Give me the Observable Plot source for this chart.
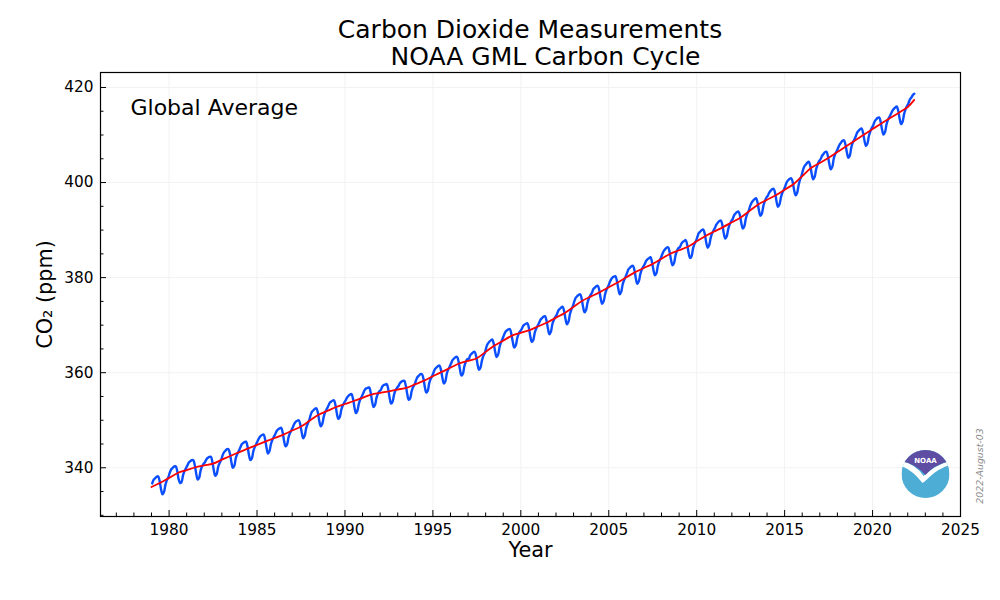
<!DOCTYPE html>
<html>
<head>
<meta charset="utf-8">
<script src="https://cdn.jsdelivr.net/npm/d3@7"></script>
<script src="https://cdn.jsdelivr.net/npm/@observablehq/plot@0.6"></script>
<style>
  body { margin: 0; background: #fff; font-family: "DejaVu Sans", sans-serif; }
  #wrap { position: relative; width: 1000px; height: 600px; overflow: hidden; }
  #chart { position: absolute; left: 0; top: 60px; }
  #title, #overlay { position: absolute; left: 0; top: 0; overflow: visible; pointer-events: none; }
</style>
</head>
<body>
<div id="wrap">
  <div id="chart"></div>
  <svg id="title" width="1000" height="72" font-family="DejaVu Sans, sans-serif">
    <text x="530" y="38" text-anchor="middle" font-size="25" fill="#000">Carbon Dioxide Measurements</text>
    <text x="545.5" y="65" text-anchor="middle" font-size="25" fill="#000">NOAA GML Carbon Cycle</text>
  </svg>
  <svg id="overlay" width="1000" height="600" font-family="DejaVu Sans, sans-serif">
    <text transform="translate(983,466) rotate(-90)" text-anchor="middle" font-size="9.4" font-style="italic" fill="#888">2022-August-03</text>
    <g transform="translate(901.5,450)">
      <clipPath id="logoClip"><circle cx="24" cy="24" r="24"></circle></clipPath>
      <g clip-path="url(#logoClip)">
        <rect x="0" y="0" width="48" height="48" fill="#4eadd4"></rect>
        <path fill="#fff" d="M0,11 Q14,14 22,26 Q32,16 48,11 L48,15 Q36,19 28,27 Q24,31 21,33 Q12,21 0,16 Z"></path>
        <path fill="#5d4ea3" d="M0,0 H48 V11 Q32,15 24,25 Q14,14 0,11 Z"></path>
      </g>
      <text x="24" y="13" text-anchor="middle" font-size="7" font-weight="bold" fill="#fff">NOAA</text>
    </g>
  </svg>
</div>
<script>
// ---- data ----
const years = [1979, 1980, 1981, 1982, 1983, 1984, 1985, 1986, 1987, 1988, 1989,
  1990, 1991, 1992, 1993, 1994, 1995, 1996, 1997, 1998, 1999,
  2000, 2001, 2002, 2003, 2004, 2005, 2006, 2007, 2008, 2009,
  2010, 2011, 2012, 2013, 2014, 2015, 2016, 2017, 2018, 2019,
  2020, 2021, 2022];

// monthly global mean CO2 (ppm), Jan..Dec per year
const monthlyPpm = [
  [336.7, 337.5, 337.8, 338.1, 338.2, 337.3, 335.5, 334.4, 334.9, 336.4, 337.4, 338.0],
  [339.0, 339.7, 340.0, 340.3, 340.3, 339.4, 337.6, 336.8, 337.0, 338.4, 339.3, 339.9],
  [340.5, 341.1, 341.4, 341.6, 341.6, 340.6, 338.8, 337.5, 337.9, 339.4, 340.3, 340.8],
  [341.2, 341.8, 342.1, 342.3, 342.3, 341.3, 339.5, 338.3, 338.7, 340.2, 341.0, 341.6],
  [342.6, 343.3, 343.6, 343.9, 343.9, 343.0, 341.2, 340.0, 340.4, 342.0, 342.9, 343.5],
  [344.2, 344.9, 345.2, 345.4, 345.5, 344.5, 342.7, 341.6, 342.0, 343.5, 344.4, 345.0],
  [345.7, 346.3, 346.7, 346.9, 347.0, 346.0, 344.2, 343.0, 343.5, 345.0, 345.9, 346.5],
  [347.1, 347.8, 348.1, 348.3, 348.4, 347.4, 345.6, 344.5, 344.9, 346.4, 347.3, 347.9],
  [348.6, 349.3, 349.7, 349.9, 350.0, 349.1, 347.4, 346.2, 346.7, 348.3, 349.2, 349.9],
  [351.0, 351.8, 352.1, 352.4, 352.5, 351.6, 349.8, 348.7, 349.2, 350.7, 351.7, 352.3],
  [352.9, 353.6, 353.9, 354.1, 354.2, 353.2, 351.4, 350.3, 350.7, 352.2, 353.1, 353.7],
  [354.2, 354.8, 355.2, 355.4, 355.5, 354.5, 352.7, 351.5, 352.0, 353.5, 354.4, 355.0],
  [355.7, 356.4, 356.7, 356.8, 356.9, 355.9, 354.0, 352.8, 353.2, 354.7, 355.6, 356.1],
  [356.4, 357.1, 357.4, 357.5, 357.6, 356.6, 354.7, 353.5, 353.9, 355.4, 356.3, 356.8],
  [357.2, 357.8, 358.1, 358.3, 358.3, 357.3, 355.5, 354.3, 354.6, 356.1, 357.0, 357.5],
  [358.4, 359.1, 359.4, 359.7, 359.7, 358.8, 357.0, 355.8, 356.2, 357.8, 358.7, 359.3],
  [360.1, 360.8, 361.1, 361.4, 361.5, 360.6, 358.9, 357.7, 358.2, 359.8, 360.7, 361.3],
  [362.0, 362.7, 363.0, 363.3, 363.3, 362.4, 360.6, 359.4, 359.8, 361.4, 362.3, 362.9],
  [362.9, 363.7, 364.0, 364.3, 364.4, 363.5, 361.7, 360.6, 361.1, 362.6, 363.6, 364.2],
  [365.4, 366.1, 366.5, 366.8, 367.0, 366.1, 364.4, 363.3, 363.8, 365.4, 366.4, 367.1],
  [367.9, 368.6, 368.9, 369.1, 369.2, 368.2, 366.5, 365.3, 365.7, 367.2, 368.2, 368.7],
  [369.1, 369.8, 370.1, 370.3, 370.4, 369.4, 367.6, 366.5, 366.9, 368.4, 369.3, 369.9],
  [370.5, 371.2, 371.5, 371.8, 371.9, 371.0, 369.3, 368.1, 368.6, 370.2, 371.1, 371.7],
  [372.2, 373.0, 373.4, 373.7, 373.9, 373.0, 371.3, 370.2, 370.7, 372.3, 373.3, 374.0],
  [375.0, 375.8, 376.1, 376.4, 376.5, 375.6, 373.8, 372.7, 373.2, 374.7, 375.7, 376.3],
  [376.8, 377.6, 377.9, 378.2, 378.3, 377.4, 375.6, 374.5, 375.0, 376.5, 377.5, 378.1],
  [378.9, 379.6, 380.0, 380.2, 380.3, 379.4, 377.7, 376.5, 377.0, 378.6, 379.5, 380.2],
  [381.0, 381.8, 382.1, 382.4, 382.5, 381.6, 379.8, 378.7, 379.2, 380.7, 381.7, 382.3],
  [382.8, 383.5, 383.9, 384.1, 384.3, 383.3, 381.6, 380.5, 380.9, 382.5, 383.5, 384.1],
  [384.9, 385.6, 386.0, 386.3, 386.4, 385.4, 383.7, 382.6, 383.0, 384.6, 385.6, 386.2],
  [386.4, 387.1, 387.5, 387.7, 387.9, 386.9, 385.2, 384.1, 384.5, 386.1, 387.1, 387.7],
  [388.6, 389.4, 389.7, 390.0, 390.1, 389.2, 387.4, 386.3, 386.8, 388.3, 389.3, 389.9],
  [390.5, 391.2, 391.6, 391.9, 392.0, 391.1, 389.3, 388.2, 388.7, 390.2, 391.2, 391.8],
  [392.3, 393.1, 393.5, 393.8, 393.9, 393.1, 391.4, 390.3, 390.8, 392.4, 393.4, 394.1],
  [395.1, 395.8, 396.2, 396.5, 396.7, 395.8, 394.1, 393.0, 393.5, 395.1, 396.1, 396.8],
  [397.2, 397.9, 398.3, 398.6, 398.7, 397.8, 396.0, 394.9, 395.4, 396.9, 397.9, 398.5],
  [399.3, 400.1, 400.5, 400.8, 400.9, 400.1, 398.4, 397.3, 397.8, 399.4, 400.6, 401.4],
  [402.6, 403.4, 403.8, 404.2, 404.4, 403.5, 401.8, 400.7, 401.2, 402.8, 403.8, 404.5],
  [404.9, 405.6, 406.0, 406.4, 406.5, 405.6, 403.9, 402.8, 403.3, 405.0, 406.0, 406.6],
  [407.3, 408.0, 408.4, 408.8, 408.9, 408.0, 406.3, 405.2, 405.7, 407.4, 408.4, 409.0],
  [409.7, 410.5, 410.9, 411.2, 411.4, 410.5, 408.8, 407.7, 408.2, 409.8, 410.8, 411.5],
  [412.1, 412.9, 413.3, 413.6, 413.7, 412.8, 411.1, 410.1, 410.6, 412.2, 413.2, 413.8],
  [414.4, 415.1, 415.5, 415.8, 416.0, 415.1, 413.4, 412.3, 412.8, 414.4, 415.4, 416.1],
  [416.7, 417.5, 417.9, 418.4, 418.7]
];

// deseasonalized trend (ppm), read at half-year steps
const trendDates = [1979.0, 1979.5, 1980.0, 1980.5, 1981.0, 1981.5, 1982.0, 1982.5, 1983.0, 1983.5,
  1984.0, 1984.5, 1985.0, 1985.5, 1986.0, 1986.5, 1987.0, 1987.5, 1988.0, 1988.5,
  1989.0, 1989.5, 1990.0, 1990.5, 1991.0, 1991.5, 1992.0, 1992.5, 1993.0, 1993.5,
  1994.0, 1994.5, 1995.0, 1995.5, 1996.0, 1996.5, 1997.0, 1997.5, 1998.0, 1998.5,
  1999.0, 1999.5, 2000.0, 2000.5, 2001.0, 2001.5, 2002.0, 2002.5, 2003.0, 2003.5,
  2004.0, 2004.5, 2005.0, 2005.5, 2006.0, 2006.5, 2007.0, 2007.5, 2008.0, 2008.5,
  2009.0, 2009.5, 2010.0, 2010.5, 2011.0, 2011.5, 2012.0, 2012.5, 2013.0, 2013.5,
  2014.0, 2014.5, 2015.0, 2015.5, 2016.0, 2016.5, 2017.0, 2017.5, 2018.0, 2018.5,
  2019.0, 2019.5, 2020.0, 2020.5, 2021.0, 2021.5, 2022.0, 2022.37];
const trendPpm = [335.95, 336.85, 337.88, 338.91, 339.51, 340.11, 340.49, 340.86, 341.70, 342.53,
  343.30, 344.07, 344.81, 345.54, 346.26, 346.97, 347.83, 348.68, 349.92, 351.16,
  351.97, 352.78, 353.42, 354.05, 354.72, 355.39, 355.74, 356.09, 356.46, 356.83,
  357.58, 358.33, 359.25, 360.17, 361.05, 361.93, 362.49, 363.05, 364.38, 365.70,
  366.75, 367.80, 368.38, 368.96, 369.77, 370.57, 371.58, 372.58, 373.87, 375.15,
  376.05, 376.95, 377.97, 378.98, 380.07, 381.15, 382.03, 382.90, 383.96, 385.02,
  385.76, 386.50, 387.63, 388.76, 389.70, 390.63, 391.64, 392.65, 394.03, 395.40,
  396.37, 397.34, 398.50, 399.65, 401.36, 403.06, 404.14, 405.22, 406.42, 407.62,
  408.85, 410.07, 411.26, 412.44, 413.57, 414.70, 415.90, 417.40];

const xMajorTicks = [1980, 1985, 1990, 1995, 2000, 2005, 2010, 2015, 2020, 2025];
const xMinorTicks = [1977, 1978, 1979, 1981, 1982, 1983, 1984, 1986, 1987, 1988, 1989,
  1991, 1992, 1993, 1994, 1996, 1997, 1998, 1999, 2001, 2002, 2003, 2004,
  2006, 2007, 2008, 2009, 2011, 2012, 2013, 2014, 2016, 2017, 2018, 2019,
  2021, 2022, 2023, 2024];
const yMajorTicks = [340, 360, 380, 400, 420];
const yMinorTicks = [330, 335, 345, 350, 355, 365, 370, 375, 385, 390, 395, 405, 410, 415];

// ---- tables ----
const monthly = [];
years.forEach((yr, i) => monthlyPpm[i].forEach((v, j) => monthly.push({date: yr + (j + 0.5) / 12, ppm: v})));
const trend = trendDates.map((d, i) => ({date: d, ppm: trendPpm[i]}));

const W = 1000, H = 540, mT = 12, mB = 84, mL = 100, mR = 40;
const frameW = W - mL - mR, frameH = H - mT - mB;

const chart = Plot.plot({
  width: W, height: H,
  marginTop: mT, marginBottom: mB, marginLeft: mL, marginRight: mR,
  style: {fontFamily: "DejaVu Sans, sans-serif", fontSize: "15.3px", color: "#000", background: "white", overflow: "visible"},
  x: {domain: [1976.1, 2025], ticks: xMajorTicks, tickFormat: d => String(d), tickSize: 0, tickPadding: 8, label: null},
  y: {domain: [329.75, 423.15], ticks: yMajorTicks, tickFormat: d => String(d), tickSize: 0, tickPadding: 7, label: null},
  marks: [
    Plot.ruleX(xMajorTicks, {x: d => d, stroke: "#f2f2f2", strokeWidth: 1}),
    Plot.ruleY(yMajorTicks, {y: d => d, stroke: "#f2f2f2", strokeWidth: 1}),
    Plot.line(monthly, {x: "date", y: "ppm", stroke: "#0a4eff", strokeWidth: 2.4, curve: "catmull-rom"}),
    Plot.line(trend, {x: "date", y: "ppm", stroke: "#ff0000", strokeWidth: 1.8, curve: "catmull-rom"}),
    Plot.tickX(xMajorTicks, {x: d => d, stroke: "#000", insetTop: frameH - 6}),
    Plot.tickX(xMinorTicks, {x: d => d, stroke: "#000", insetTop: frameH - 3.5}),
    Plot.tickY(yMajorTicks, {y: d => d, stroke: "#000", insetRight: frameW - 6}),
    Plot.tickY(yMinorTicks, {y: d => d, stroke: "#000", insetRight: frameW - 3.5}),
    Plot.frame({stroke: "#000", strokeWidth: 1.2}),
    Plot.text(["Global Average"], {frameAnchor: "top-left", dx: 30, dy: 35, textAnchor: "start", lineAnchor: "middle", fontSize: 22, fill: "#000"}),
    Plot.text(["Year"], {frameAnchor: "bottom", dy: 34, textAnchor: "middle", lineAnchor: "middle", fontSize: 20.8, fill: "#000"}),
    Plot.text(["CO₂ (ppm)"], {frameAnchor: "left", dx: -55, rotate: -90, textAnchor: "middle", lineAnchor: "middle", fontSize: 20.8, fill: "#000"})
  ]
});
document.getElementById("chart").appendChild(chart);
</script>
</body>
</html>
